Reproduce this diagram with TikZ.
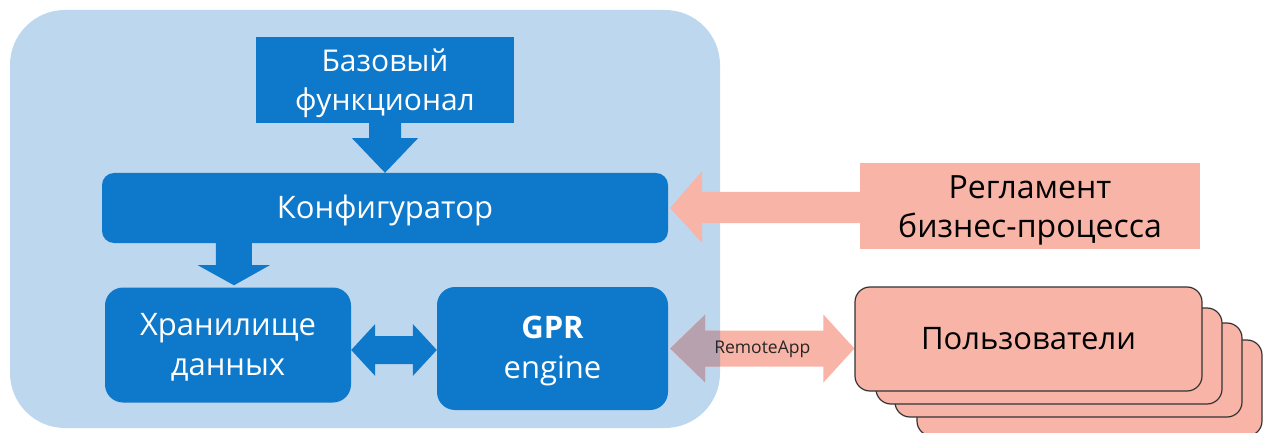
\documentclass[tikz,border=0pt]{standalone}
\usepackage{fontspec}
\setmainfont{Open Sans}
\usetikzlibrary{calc}
\definecolor{bgblue}{HTML}{BDD7EE}
\definecolor{dkblue}{HTML}{0E78CB}
\definecolor{pinkc}{HTML}{F8B4A7}
\definecolor{mauve}{HTML}{B8A1AF}
\pgfdeclarelayer{back}
\pgfdeclarelayer{mid}
\pgfsetlayers{back,mid,main}
\newcommand{\twolines}[3]{\raisebox{-#1}[\height][\depth]{\begin{tabular}{@{}c@{}}#2\\#3\end{tabular}}}
\begin{document}
\begin{tikzpicture}[x=1pt,y=-1pt,
  bluebox/.style={fill=dkblue,text=white,inner sep=0pt,align=center,font=\fontsize{30}{39}\selectfont},
  pinkbox/.style={fill=pinkc,text=black,inner sep=0pt,align=center,font=\fontsize{30}{39}\selectfont},
  userbox/.style={fill=pinkc,draw=black!80,line width=1.2pt,rounded corners=15pt,inner sep=0pt}]
\useasboundingbox (0,0) rectangle (1267,433);
% background
\begin{pgfonlayer}{back}
\node[fill=bgblue,rounded corners=55pt,minimum width=710pt,minimum height=418pt,inner sep=0pt] (bg) at (365,219) {};
\end{pgfonlayer}
% users stack
\node[userbox,minimum width=345pt,minimum height=96pt] (u4) at (1089.5,388) {};
\node[userbox,minimum width=347pt,minimum height=94pt] (u3) at (1068.5,370) {};
\node[userbox,minimum width=346pt,minimum height=96pt] (u2) at (1049,356) {};
\node[userbox,minimum width=347pt,minimum height=104pt,font=\fontsize{31}{36}\selectfont] (users) at (1028.5,339) {Пользователи};
% boxes
\node[bluebox,minimum width=258pt,minimum height=86pt] (base) at (385,80) {\twolines{3pt}{Базовый}{функционал}};
\node[bluebox,rounded corners=12pt,minimum width=566pt,minimum height=70pt,font=\fontsize{31}{39}\selectfont] (konf) at (385,208) {\raisebox{-2pt}[\height][\depth]{Конфигуратор}};
\node[bluebox,rounded corners=18pt,minimum width=246pt,minimum height=115pt,font=\fontsize{31}{40}\selectfont] (store) at (228,345) {\twolines{2pt}{Хранилище}{данных}};
\node[pinkbox,minimum width=340pt,minimum height=86pt,font=\fontsize{32}{39}\selectfont] (regl) at (1030,206) {\twolines{4pt}{Регламент}{бизнес-процесса}};
\node[bluebox,rounded corners=18pt,minimum width=231pt,minimum height=123pt,font=\fontsize{31}{40}\selectfont] (gpr) at (552.5,348.5) {\twolines{2pt}{\textbf{GPR}}{engine}};
% RemoteApp arrow (behind gpr)
\coordinate (ra) at ($(gpr.east)+(2,0)$);
\coordinate (rb) at (ra -| users.west);
\def\raarrow{(ra) -- ($(ra)+(35,-34)$) -- ($(ra)+(35,-18)$) -- ($(rb)+(-31,-18)$) -- ($(rb)+(-31,-34)$) -- (rb) -- ($(rb)+(-31,34)$) -- ($(rb)+(-31,18)$) -- ($(ra)+(35,18)$) -- ($(ra)+(35,34)$) -- cycle}
\begin{pgfonlayer}{mid}
\fill[pinkc] \raarrow;
\begin{scope}
\clip[rounded corners=55pt] (bg.north west) rectangle (bg.south east);
\fill[mauve] \raarrow;
\end{scope}
\end{pgfonlayer}
\node[font=\fontsize{17.5}{20}\selectfont,text=black!85,inner sep=0pt] (ratext) at ($(ra)!0.5!(rb)+(0,1)$) {RemoteApp};
% base -> konf
\coordinate (a1) at (base.south);
\fill[dkblue] ($(a1)+(-16,-1)$) -- ($(a1)+(16,-1)$) -- ($(a1)+(16,15)$) -- ($(a1)+(33,15)$) -- (konf.north) -- ($(a1)+(-33,15)$) -- ($(a1)+(-16,15)$) -- cycle;
% konf -> store
\coordinate (a2) at ($(konf.south west)+(132,0)$);
\coordinate (a2t) at ($(store.north)+(6,-2)$);
\fill[dkblue] ($(a2)+(-18,-1)$) -- ($(a2)+(18,-1)$) -- ($(a2)+(18,22)$) -- ($(a2)+(36,22)$) -- (a2t) -- ($(a2)+(-36,22)$) -- ($(a2)+(-18,22)$) -- cycle;
% store <-> gpr
\coordinate (da) at ($(store.east)+(0,5)$);
\coordinate (db) at (da -| gpr.west);
\fill[dkblue] (da) -- ($(da)+(24,-26)$) -- ($(da)+(24,-14)$) -- ($(db)+(-24,-14)$) -- ($(db)+(-24,-26)$) -- (db) -- ($(db)+(-24,26)$) -- ($(db)+(-24,14)$) -- ($(da)+(24,14)$) -- ($(da)+(24,26)$) -- cycle;
% regl -> konf
\coordinate (ka) at ($(konf.east)+(2,0)$);
\coordinate (kb) at (ka -| regl.west);
\fill[pinkc] (ka) -- ($(ka)+(32,-37)$) -- ($(ka)+(32,-16)$) -- ($(kb)+(1,-16)$) -- ($(kb)+(1,15)$) -- ($(ka)+(32,15)$) -- ($(ka)+(32,35)$) -- cycle;
\end{tikzpicture}
\end{document}
